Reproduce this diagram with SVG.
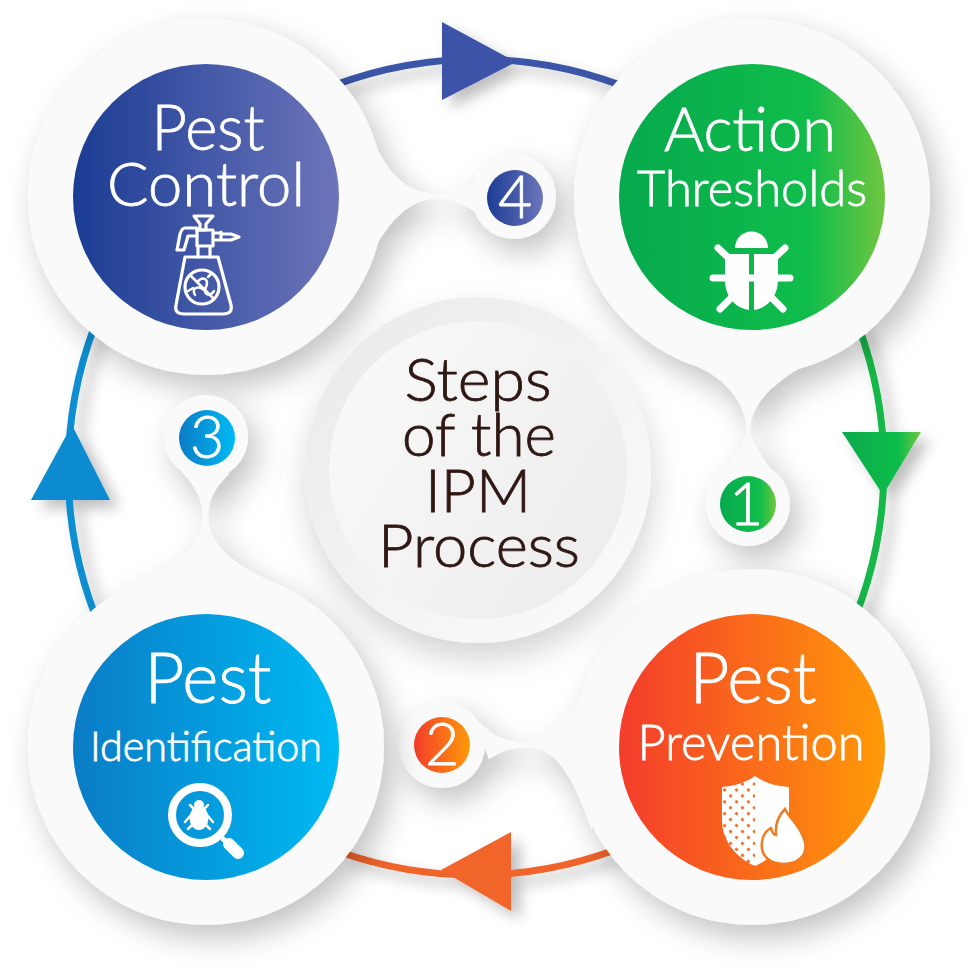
<svg xmlns="http://www.w3.org/2000/svg" width="980" height="980" viewBox="0 0 980 980">
<style>
.t{font-family:Lato,"Open Sans",sans-serif;font-weight:300;fill:#fff;stroke:#fff;stroke-width:.8px;text-anchor:middle}
.c{font-family:Lato,"Open Sans",sans-serif;font-weight:300;fill:#2f1714;stroke:#2f1714;stroke-width:.8px;text-anchor:middle;font-size:60px}
.n{font-family:Lato,sans-serif;font-weight:300;fill:#fff;stroke:#fff;stroke-width:.8px;text-anchor:middle;font-size:59px}
.arc{fill:none;stroke-width:7}
.ic{fill:none;stroke:#fff;stroke-linecap:round;stroke-linejoin:round}
.plate{fill:#fafafa}
</style>
<defs>
<linearGradient id="blue"><stop offset="0" stop-color="#1b3c94"/><stop offset="1" stop-color="#6c75ba"/></linearGradient>
<linearGradient id="green"><stop offset="0" stop-color="#06a94d"/><stop offset=".72" stop-color="#10bd4b"/><stop offset="1" stop-color="#70c640"/></linearGradient>
<linearGradient id="orange"><stop offset="0" stop-color="#f43c2c"/><stop offset="1" stop-color="#ff9a08"/></linearGradient>
<linearGradient id="sky"><stop offset="0" stop-color="#0a7cc6"/><stop offset="1" stop-color="#00baf3"/></linearGradient>
<linearGradient id="rim" x1="0" y1="0" x2="1" y2="1"><stop offset="0" stop-color="#e9e9e9"/><stop offset="1" stop-color="#fcfcfc"/></linearGradient>
<linearGradient id="centre" x1="0" y1=".2" x2="1" y2=".8"><stop offset="0" stop-color="#f9f9f9"/><stop offset="1" stop-color="#ececec"/></linearGradient>
<pattern id="dots" width="8.4" height="8.4" patternUnits="userSpaceOnUse" patternTransform="rotate(45)"><rect width="8.4" height="8.4" fill="#fff"/><circle cx="4.2" cy="4.2" r="1.7" fill="#e8702a"/></pattern>
<filter id="sh" x="-20%" y="-20%" width="140%" height="140%">
<feDropShadow dx="9" dy="13" stdDeviation="15" flood-color="#000" flood-opacity=".24"/>
</filter>
<filter id="shc" x="-30%" y="-30%" width="160%" height="160%"><feDropShadow dx="2" dy="16" stdDeviation="16" flood-color="#000" flood-opacity=".17"/></filter>
<filter id="sha" x="-40%" y="-40%" width="180%" height="180%"><feDropShadow dx="9" dy="8" stdDeviation="7" flood-color="#000" flood-opacity=".25"/></filter>
</defs>
<rect width="980" height="980" fill="#fff"/>
<g id="connectors">
<g filter="url(#sha)">
<path class="arc" stroke="#3b54a8" d="M335 85A406 406 0 0 1 620 85"/>
<path fill="#3c52a8" d="M442 22L442 100L516 62Z"/>
</g>
<g filter="url(#sha)">
<path class="arc" stroke="#18b84a" d="M858 325A404 404 0 0 1 856 615"/>
<path fill="url(#green)" d="M842 432L921 432L883 495Z"/>
</g>
<g filter="url(#sha)">
<path class="arc" stroke="#f0642a" d="M615 850A406 406 0 0 1 340 852"/>
<path fill="#f2652a" d="M511 832L511 911L441 870Z"/>
</g>
<g filter="url(#sha)">
<path class="arc" stroke="#0e8ed0" d="M95 615A406 406 0 0 1 95 325"/>
<path fill="#0b8bd0" d="M31 500L110 500L72 425Z"/>
</g>
</g>
<g id="node-control">
<g class="plate" filter="url(#sh)">
<circle cx="206" cy="197" r="178"/>
<circle cx="514" cy="197" r="42"/>
<path d="M365 120C385 175 405 193 440 195C450 195 460 190 476 182L476 212C460 203 450 198 440 198C410 198 385 220 362 275Z"/>
</g>
<circle cx="206" cy="197" r="133" fill="url(#blue)"/>
<text class="t" x="208" y="150" font-size="64" textLength="113" lengthAdjust="spacingAndGlyphs">Pest</text>
<text class="t" x="206" y="206" font-size="62" textLength="198" lengthAdjust="spacingAndGlyphs">Control</text>
<g class="ic" stroke-width="3.2">
<path d="M185 257H218L231 305Q233 314 223 314H184Q174 314 176 305Z"/>
<circle cx="202" cy="287" r="17"/>
<path d="M198 257V246H210V257M197 246V230H213V246H197M213 233H221M221 232V240H214M221 234H231L239 237L231 240H221"/>
<path d="M197 231V228H185Q182 228 180 234L177 250H184L188 236H197"/>
<path d="M194 216H213L206 224V230H200V224Z"/>
<path d="M190 275L214 299M197 282C204 275 209 280 206 287C203 294 209 298 214 291M195 295C191 288 198 285 204 290M193 288L188 291M208 277L212 273" stroke-width="2.500"/>
</g>
</g>
<g id="node-thresholds">
<g class="plate" filter="url(#sh)">
<circle cx="752" cy="197" r="178"/>
<circle cx="748" cy="504" r="42"/>
<path d="M680 360C715 370 745 395 747 430C747 440 738 455 722 474L776 476C760 455 750 440 750 430C752 395 785 372 857 338Z"/>
</g>
<circle cx="752" cy="197" r="133" fill="url(#green)"/>
<text class="t" x="750" y="151" font-size="62" textLength="172" lengthAdjust="spacingAndGlyphs">Action</text>
<text class="t" x="752" y="206" font-size="49" textLength="230" lengthAdjust="spacingAndGlyphs">Thresholds</text>
<g fill="#fff">
<path d="M735 248A16.500 16.500 0 0 1 768 248Z"/>
<path d="M725 254H749V310C735 308 725 296 725 280ZM754 254H778V280C778 296 768 308 754 310Z"/>
<path stroke="#fff" stroke-width="7" stroke-linecap="round" d="M718 248L733 262M785 248L770 262M713 278H790M720 309L733 296M783 309L770 296"/>
</g>
<circle cx="748" cy="504" r="28" fill="url(#green)"/>
<text class="n" x="746" y="525">1</text>
</g>
<g id="node-prevention">
<g class="plate" filter="url(#sh)">
<circle cx="752" cy="747" r="178"/>
<circle cx="442" cy="745" r="43"/>
<path d="M473 716C490 735 505 742 520 742C550 742 575 720 592 665L592 830C575 785 560 747 527 747C510 747 500 752 489 759Z"/>
</g>
<circle cx="752" cy="747" r="133" fill="url(#orange)"/>
<text class="t" x="753" y="703" font-size="70" textLength="127" lengthAdjust="spacingAndGlyphs">Pest</text>
<text class="t" x="751" y="760" font-size="49" textLength="227" lengthAdjust="spacingAndGlyphs">Prevention</text>
<path fill="url(#dots)" d="M755 776C745 783 734 786 722 787V820C722 840 735 857 755 866Z"/>
<path fill="#fff" d="M755 776C765 783 776 786 789 787V820C789 840 775 857 755 866Z"/>
<path fill="#fff" stroke="#f27a20" stroke-width="2.500" d="M785 809C790 820 800 824 805 842C808 856 797 864 784 864C770 864 760 856 762 842C763 834 767 830 771 828C772 832 774 835 776 835C775 824 778 816 785 809Z"/>
<circle cx="442" cy="745" r="28" fill="url(#orange)"/>
<text class="n" x="442" y="765">2</text>
</g>
<g id="node-identification">
<g class="plate" filter="url(#sh)">
<circle cx="206" cy="747" r="178"/>
<circle cx="206" cy="437" r="42"/>
<path d="M182 472C195 485 203 500 203 517C203 545 180 565 120 590L297 593C240 570 208 548 208 517C208 500 215 487 230 473Z"/>
</g>
<circle cx="206" cy="747" r="133" fill="url(#sky)"/>
<text class="t" x="208" y="703" font-size="70" textLength="127" lengthAdjust="spacingAndGlyphs">Pest</text>
<text class="t" x="206" y="761" font-size="41" textLength="232" lengthAdjust="spacingAndGlyphs">Identification</text>
<circle cx="200" cy="815" r="28" fill="none" stroke="#fff" stroke-width="8"/>
<path stroke="#fff" stroke-width="12" stroke-linecap="round" d="M229 844L238 853"/>
<path stroke="#fff" stroke-width="5" d="M222 838L230 845"/>
<ellipse cx="199" cy="818" rx="9.500" ry="12" fill="#fff"/>
<circle cx="199" cy="805" r="5" fill="#fff"/>
<path stroke="#fff" stroke-width="2.500" stroke-linecap="round" fill="none" d="M190 805L196 811M208 805L202 811M185 822L191 815M213 822L207 815M188 829L193 824M210 829L205 824"/>
<circle cx="207" cy="438" r="28" fill="url(#sky)"/>
<text class="n" x="207" y="458">3</text>
</g>
<g id="badge-4">
<circle cx="515" cy="198" r="28" fill="url(#blue)"/>
<text class="n" x="515" y="218">4</text>
</g>
<g id="node-centre">
<circle cx="478" cy="470" r="173" fill="url(#rim)" filter="url(#shc)"/>
<circle cx="478" cy="470" r="149" fill="url(#centre)"/>
<text class="c" x="478" y="401" textLength="147" lengthAdjust="spacingAndGlyphs">Steps</text>
<text class="c" x="479" y="456" textLength="154" lengthAdjust="spacingAndGlyphs">of the</text>
<text class="c" x="478" y="512" textLength="106" lengthAdjust="spacingAndGlyphs">IPM</text>
<text class="c" x="479" y="567" textLength="202" lengthAdjust="spacingAndGlyphs">Process</text>
</g>
</svg>
